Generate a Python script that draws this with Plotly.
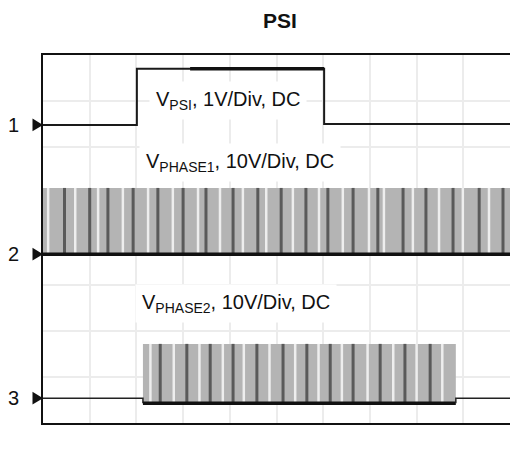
import plotly.graph_objects as go

# ---- data (x in time divisions 0..10, y in vertical divisions 0..8) ----
psi_x = [0.0, 2.01, 2.01, 6.02, 6.02, 10.0]
psi_y = [6.48, 6.48, 7.70, 7.70, 6.50, 6.50]
psi_thick_x = [3.15, 6.02]
psi_thick_y = [7.70, 7.70]

ph1_start, ph1_end = 0.0, 10.0
ph1_low, ph1_high = 3.67, 5.11
ph1_dark = [0.46, 1.00, 1.39, 1.93, 2.46, 3.00, 3.49, 4.07, 4.60, 5.10,
            5.63, 6.10, 6.64, 7.17, 7.71, 8.20, 8.78, 9.34, 9.85]
ph1_gap = [0.11, 0.69, 1.18, 1.71, 2.25, 2.78, 3.32, 3.79, 4.28, 4.78,
           5.35, 5.91, 6.42, 6.98, 7.30, 7.92, 8.48, 8.99, 9.55]

ph2_base = 0.54
ph2_start, ph2_end = 2.14, 8.84
ph2_low, ph2_high = 0.43, 1.72
ph2_dark = [2.51, 3.08, 3.58, 4.07, 4.58, 5.14, 5.65, 6.15, 6.64, 7.22, 7.75, 8.29]
ph2_gap = [2.30, 2.80, 3.35, 3.85, 4.30, 4.85, 5.40, 5.90, 6.40, 6.95, 7.50, 8.00, 8.55]

channel_names = ["1", "2", "3"]
channel_levels = [6.48, 3.67, 0.54]

labels = ["V<sub>PSI</sub>, 1V/Div, DC",
          "V<sub>PHASE1</sub>, 10V/Div, DC",
          "V<sub>PHASE2</sub>, 10V/Div, DC"]
label_x = [3.96, 4.22, 4.13]
label_y = [7.02, 5.67, 2.60]

FONT = "Liberation Sans, Arial, sans-serif"


def vlines(xs, y0, y1):
    X, Y = [], []
    for x in xs:
        X += [x, x, None]
        Y += [y0, y1, None]
    return X, Y


fig = go.Figure()

# PHASE1 switching block
fig.add_trace(go.Scatter(x=[ph1_start, ph1_end, ph1_end, ph1_start, ph1_start],
                         y=[ph1_low, ph1_low, ph1_high, ph1_high, ph1_low],
                         fill="toself", fillcolor="#b4b4b4", mode="none",
                         hoverinfo="skip"))
X, Y = vlines(ph1_gap, ph1_low, ph1_high)
fig.add_trace(go.Scatter(x=X, y=Y, mode="lines", line=dict(color="#eeeeee", width=2.5)))
X, Y = vlines(ph1_dark, ph1_low, ph1_high)
fig.add_trace(go.Scatter(x=X, y=Y, mode="lines", line=dict(color="#5a5a5a", width=3)))
fig.add_trace(go.Scatter(x=[ph1_start, ph1_end], y=[ph1_low, ph1_low], mode="lines",
                         line=dict(color="#111111", width=3.5)))

# PHASE2 switching block
fig.add_trace(go.Scatter(x=[ph2_start, ph2_end, ph2_end, ph2_start, ph2_start],
                         y=[ph2_low, ph2_low, ph2_high, ph2_high, ph2_low],
                         fill="toself", fillcolor="#b4b4b4", mode="none",
                         hoverinfo="skip"))
X, Y = vlines(ph2_gap, ph2_low, ph2_high)
fig.add_trace(go.Scatter(x=X, y=Y, mode="lines", line=dict(color="#eeeeee", width=2.5)))
X, Y = vlines(ph2_dark, ph2_low, ph2_high)
fig.add_trace(go.Scatter(x=X, y=Y, mode="lines", line=dict(color="#5a5a5a", width=3)))
fig.add_trace(go.Scatter(x=[0, ph2_start, ph2_start], y=[ph2_base, ph2_base, ph2_low],
                         mode="lines", line=dict(color="#222222", width=1.5)))
fig.add_trace(go.Scatter(x=[ph2_start, ph2_end], y=[ph2_low, ph2_low], mode="lines",
                         line=dict(color="#111111", width=3.5)))
fig.add_trace(go.Scatter(x=[ph2_end, ph2_end, 10], y=[ph2_low, ph2_base, ph2_base],
                         mode="lines", line=dict(color="#222222", width=1.5)))

# PSI step
fig.add_trace(go.Scatter(x=psi_x, y=psi_y, mode="lines", line=dict(color="#1a1a1a", width=2)))
fig.add_trace(go.Scatter(x=psi_thick_x, y=psi_thick_y, mode="lines",
                         line=dict(color="#111111", width=3.5)))

# channel markers: triangles just left of the plot, and channel numbers
for name, lvl in zip(channel_names, channel_levels):
    fig.add_shape(type="path", xref="paper", yref="y",
                  path=f"M -0.0225,{lvl + 0.14} L 0,{lvl} L -0.0225,{lvl - 0.14} Z",
                  fillcolor="#111111", line=dict(width=0), layer="above")
    fig.add_annotation(x=-0.064, xref="paper", y=lvl, yref="y", text=name,
                       showarrow=False, xanchor="center", yanchor="middle",
                       font=dict(size=20, color="#111111", family=FONT))

for t, x, y in zip(labels, label_x, label_y):
    fig.add_annotation(x=x, y=y, text=t, showarrow=False, bgcolor="white",
                       borderpad=6, xanchor="center", yanchor="middle",
                       font=dict(size=20, color="#111111", family=FONT))

fig.update_layout(
    width=510, height=453,
    margin=dict(l=43, r=0, t=55, b=30),
    paper_bgcolor="white", plot_bgcolor="white",
    showlegend=False,
    title=dict(text="<b>PSI</b>", x=0.549, xanchor="center", y=0.955, yanchor="middle",
               font=dict(size=21, color="#111111", family=FONT)),
    xaxis=dict(range=[0, 10], dtick=1, showticklabels=False, ticks="",
               showgrid=True, gridcolor="#ececec", gridwidth=2, zeroline=False,
               showline=True, mirror=True, linecolor="#111111", linewidth=1.5),
    yaxis=dict(range=[0, 8], dtick=1, showticklabels=False, ticks="",
               showgrid=True, gridcolor="#ececec", gridwidth=2, zeroline=False,
               showline=True, mirror=False, linecolor="#111111", linewidth=1.5),
)

fig.write_html("out.html")
